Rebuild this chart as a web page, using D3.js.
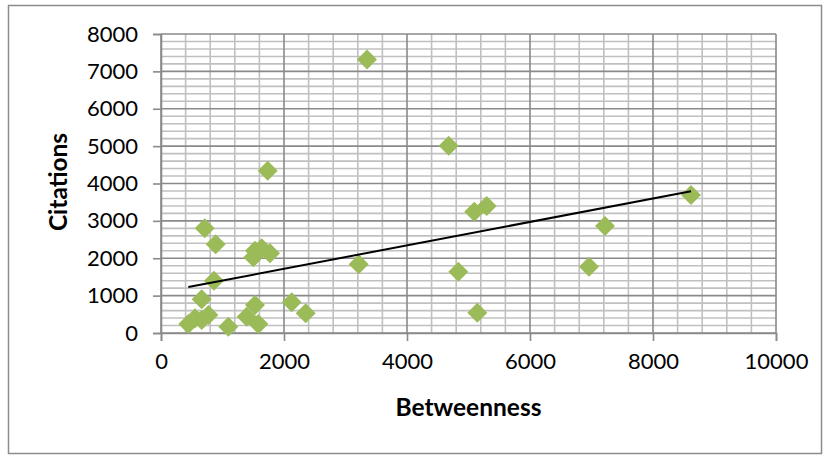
<!DOCTYPE html>
<html>
<head>
<meta charset="utf-8">
<script src="https://cdn.jsdelivr.net/npm/d3@7"></script>
<style>
  html, body { margin: 0; padding: 0; background: #fff; }
  svg { display: block; }
  text { font-family: Lato, "Open Sans", sans-serif; fill: #000; }
</style>
</head>
<body>
<svg id="chart" width="830" height="456"></svg>
<script>
// Betweenness centrality vs. citation count, one entry per node
const betweenness = [3350, 1735, 4678, 710, 889, 1528, 1637, 1772, 1501, 862,
                     662, 770, 662, 444, 553, 1095, 1528, 1393, 1583, 2125,
                     2353, 3214, 5094, 5296, 4834, 5143, 7220, 6959, 8618];
const citations   = [7318, 4340, 5008, 2800, 2372, 2200, 2265, 2131, 2024, 1398,
                     900, 481, 348, 241, 393, 169, 749, 436, 241, 820,
                     526, 1837, 3244, 3396, 1640, 543, 2861, 1773, 3690];

const xTicks = [0, 2000, 4000, 6000, 8000, 10000];
const yTicks = [0, 1000, 2000, 3000, 4000, 5000, 6000, 7000, 8000];
const xLabel = "Betweenness";
const yLabel = "Citations";

const svg = d3.select("#chart");
const plot = { left: 161, right: 776, top: 34, bottom: 333 };

// outer chart frame
svg.append("rect")
  .attr("x", 8.5).attr("y", 5.5)
  .attr("width", 813).attr("height", 448)
  .attr("fill", "#fff").attr("stroke", "#8c8c8c").attr("stroke-width", 1.5);

const x = d3.scaleLinear().domain([0, 10000]).range([plot.left, plot.right]);
const y = d3.scaleLinear().domain([0, 8000]).range([plot.bottom, plot.top]);

// minor gridlines every 400 / 200
const minorX = d3.range(0, 10001, 400).filter(v => v % 2000 !== 0);
const minorY = d3.range(0, 8001, 200).filter(v => v % 1000 !== 0);
const grid = svg.append("g");
grid.selectAll(".mx").data(minorX).join("line")
  .attr("x1", d => x(d)).attr("x2", d => x(d))
  .attr("y1", plot.top).attr("y2", plot.bottom)
  .attr("stroke", "#c0c0c0").attr("stroke-width", 1.6);
grid.selectAll(".my").data(minorY).join("line")
  .attr("y1", d => y(d)).attr("y2", d => y(d))
  .attr("x1", plot.left).attr("x2", plot.right)
  .attr("stroke", "#c0c0c0").attr("stroke-width", 1.6);

// major gridlines
grid.selectAll(".Mx").data(xTicks).join("line")
  .attr("x1", d => x(d)).attr("x2", d => x(d))
  .attr("y1", plot.top).attr("y2", plot.bottom)
  .attr("stroke", "#8a8a8a").attr("stroke-width", 1.6);
grid.selectAll(".My").data(yTicks).join("line")
  .attr("y1", d => y(d)).attr("y2", d => y(d))
  .attr("x1", plot.left).attr("x2", plot.right)
  .attr("stroke", "#8a8a8a").attr("stroke-width", 1.6);

// axes
const xAxis = d3.axisBottom(x).tickValues(xTicks).tickSize(8).tickPadding(12)
  .tickFormat(d3.format("d"));
const yAxis = d3.axisLeft(y).tickValues(yTicks).tickSize(8).tickPadding(15)
  .tickFormat(d3.format("d"));

const gx = svg.append("g").attr("transform", `translate(0,${plot.bottom})`).call(xAxis);
const gy = svg.append("g").attr("transform", `translate(${plot.left},0)`).call(yAxis);
[gx, gy].forEach(g => {
  g.select(".domain").attr("stroke", "#8a8a8a").attr("stroke-width", 1.6);
  g.selectAll(".tick line").attr("stroke", "#8a8a8a").attr("stroke-width", 1.6);
  g.selectAll(".tick text").attr("font-size", 22).attr("fill", "#000")
    .style("font-family", "Lato, 'Open Sans', sans-serif");
});
gx.selectAll(".tick text").attr("dy", "0.71em");

// axis titles
svg.append("text")
  .attr("x", (plot.left + plot.right) / 2).attr("y", 416)
  .attr("text-anchor", "middle").attr("font-size", 24.5).attr("font-weight", "bold")
  .text(xLabel);
svg.append("text")
  .attr("transform", "translate(67,182) rotate(-90)")
  .attr("text-anchor", "middle").attr("font-size", 24.5).attr("font-weight", "bold")
  .text(yLabel);

// data points as diamonds
const points = betweenness.map((b, i) => ({ b, c: citations[i] }));
const diamond = d3.symbol().type(d3.symbolSquare).size(200);
svg.append("g").selectAll("path").data(points).join("path")
  .attr("d", diamond)
  .attr("transform", d => `translate(${x(d.b)},${y(d.c)}) rotate(45)`)
  .attr("fill", "#9bbb59");

// least-squares linear trend line over the data's x range
const mx = d3.mean(betweenness), my = d3.mean(citations);
const sxy = d3.sum(betweenness, (b, i) => (b - mx) * (citations[i] - my));
const sxx = d3.sum(betweenness, b => (b - mx) * (b - mx));
const slope = sxy / sxx, intercept = my - slope * mx;
const [xmin, xmax] = d3.extent(betweenness);
svg.append("line")
  .attr("x1", x(xmin)).attr("y1", y(intercept + slope * xmin))
  .attr("x2", x(xmax)).attr("y2", y(intercept + slope * xmax))
  .attr("stroke", "#000").attr("stroke-width", 2);
</script>
</body>
</html>
